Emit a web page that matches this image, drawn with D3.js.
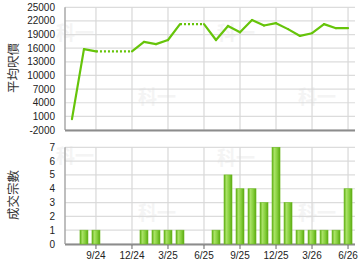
<!DOCTYPE html>
<html>
<head>
<meta charset="utf-8">
<script src="https://cdn.jsdelivr.net/npm/d3@7"></script>
<style>
body{margin:0;background:#fff;}
svg{display:block;font-family:"Liberation Sans",Arial,sans-serif;}
</style>
</head>
<body>
<svg id="chart" width="360" height="270"></svg>
<script>
// months Jul 2024 .. Jun 2026
var months = ["7/24","8/24","9/24","10/24","11/24","12/24","1/25","2/25","3/25","4/25","5/25","6/25",
              "7/25","8/25","9/25","10/25","11/25","12/25","1/26","2/26","3/26","4/26","5/26","6/26"]
// average price per sq ft
var avgPrice = [400,15800,15300,15300,15300,15300,17400,16900,17800,21300,21300,21300,
                17800,20900,19500,22200,21000,21500,20200,18700,19300,21300,20400,20400]
// months with no deal: drawn dotted
var noDeal = [false,false,false,true,true,true,false,false,false,false,true,true,
              false,false,false,false,false,false,false,false,false,false,false,false]
var deals = [0,1,1,0,0,0,1,1,1,1,0,0,1,5,4,4,3,7,3,1,1,1,1,4]
var priceTicks = [25000,22000,19000,16000,13000,10000,7000,4000,1000,-2000]
var dealTicks = [0,1,2,3,4,5,6,7]
var xTickLabels = ["9/24","12/24","3/25","6/25","9/25","12/25","3/26","6/26"]

var svg = d3.select("#chart")
var left = 65, right = 355

var x = d3.scaleLinear()
    .domain([-0.58, months.length - 1 + 0.58])
    .range([left, right])

var yTop = d3.scaleLinear().domain([-2000, 25000]).range([130, 7.3])
var yBot = d3.scaleLinear().domain([0, 7]).range([244, 147.3])

var xTickIdx = xTickLabels.map(function(l){ return months.indexOf(l) })

// gradient for bars
var defs = svg.append("defs")
var grad = defs.append("linearGradient").attr("id","barGrad").attr("x1","0").attr("x2","1").attr("y1","0").attr("y2","0")
grad.append("stop").attr("offset","0%").attr("stop-color","#5fae14")
grad.append("stop").attr("offset","30%").attr("stop-color","#a9e266")
grad.append("stop").attr("offset","65%").attr("stop-color","#86cf3c")
grad.append("stop").attr("offset","100%").attr("stop-color","#5aa810")

// watermarks
var marks = [[75,40],[157,104],[236,40],[317,104],[75,163],[157,220],[236,165],[317,220]]
svg.append("g").selectAll("text").data(marks).enter().append("text")
    .attr("x", function(d){return d[0]})
    .attr("y", function(d){return d[1]})
    .attr("text-anchor","middle")
    .style("font-family","'Noto Sans CJK TC','Noto Sans CJK SC',sans-serif")
    .style("font-weight","bold")
    .style("font-size","19px")
    .style("fill","#f4f4f4")
    .text("科一")

function drawGrid(y, ticks, top, bottom){
    var g = svg.append("g")
    g.selectAll("line.h").data(ticks).enter().append("line")
        .attr("x1", left).attr("x2", right)
        .attr("y1", function(d){return y(d)}).attr("y2", function(d){return y(d)})
        .style("stroke","#dcdcdc").style("stroke-width",1.2)
    g.selectAll("line.v").data(xTickIdx).enter().append("line")
        .attr("x1", function(d){return x(d)}).attr("x2", function(d){return x(d)})
        .attr("y1", top).attr("y2", bottom)
        .style("stroke","#d8d8d8").style("stroke-width",1.2)
    // axes
    g.append("line").attr("x1",left).attr("x2",left).attr("y1",top).attr("y2",bottom)
        .style("stroke","#a8a8a8").style("stroke-width",1.5)
    g.append("line").attr("x1",left).attr("x2",right).attr("y1",bottom+0.5).attr("y2",bottom+0.5)
        .style("stroke","#8c8c8c").style("stroke-width",2)
    // y labels
    g.selectAll("text").data(ticks).enter().append("text")
        .attr("x", 55).attr("y", function(d){return y(d)}).attr("dy","0.35em")
        .attr("text-anchor","end")
        .style("font-size","10px").style("fill","#222")
        .text(function(d){return d})
}

drawGrid(yTop, priceTicks, yTop(25000), 130)
drawGrid(yBot, dealTicks, yBot(7), 244)

// line segments
var segs = []
for (var i = 1; i < avgPrice.length; i++){
    segs.push({a:i-1, b:i, dotted: noDeal[i]})
}
svg.append("g").selectAll("line").data(segs).enter().append("line")
    .attr("x1", function(d){return x(d.a)}).attr("y1", function(d){return yTop(avgPrice[d.a])})
    .attr("x2", function(d){return x(d.b)}).attr("y2", function(d){return yTop(avgPrice[d.b])})
    .style("stroke","#66c40a")
    .style("stroke-width",2.2)
    .style("stroke-linecap", function(d){return d.dotted ? "butt" : "round"})
    .style("stroke-dasharray", function(d){return d.dotted ? "2,2" : null})

// bars
var bw = 8
var barData = deals.map(function(v,i){return {i:i, v:v}}).filter(function(d){return d.v > 0})
svg.append("g").selectAll("rect").data(barData).enter().append("rect")
    .attr("x", function(d){return x(d.i) - bw/2})
    .attr("y", function(d){return yBot(d.v)})
    .attr("width", bw)
    .attr("height", function(d){return yBot(0) - yBot(d.v)})
    .style("fill","url(#barGrad)")
    .style("stroke","#6dbb22").style("stroke-width",0.6)

// x tick marks and labels
var xg = svg.append("g")
xg.selectAll("line").data(xTickIdx).enter().append("line")
    .attr("x1", function(d){return x(d)}).attr("x2", function(d){return x(d)})
    .attr("y1", 245).attr("y2", 249)
    .style("stroke","#666").style("stroke-width",1)
xg.selectAll("text").data(xTickLabels).enter().append("text")
    .attr("x", function(d,i){return x(xTickIdx[i])})
    .attr("y", 259)
    .attr("text-anchor","middle")
    .style("font-size","10px").style("fill","#222")
    .text(function(d){return d})

// axis titles
function vTitle(txt, cx, cy){
    svg.append("text")
        .attr("transform","translate(" + cx + "," + cy + ") rotate(-90)")
        .attr("text-anchor","middle").attr("dy","0.35em")
        .style("font-family","'Noto Sans CJK TC','Noto Sans CJK SC',sans-serif")
        .style("font-size","12.5px").style("fill","#333")
        .text(txt)
}
vTitle("平均呎價", 14, 68)
vTitle("成交宗數", 14, 195)
</script>
</body>
</html>
